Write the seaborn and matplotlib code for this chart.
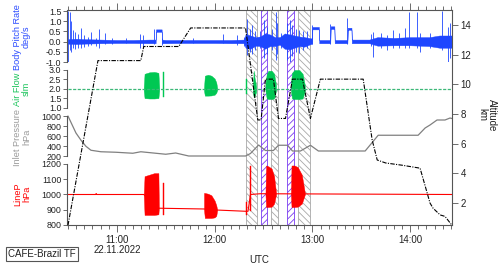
import numpy as np
import pandas as pd
import matplotlib
matplotlib.use("Agg")
import matplotlib.pyplot as plt
import matplotlib.dates as mdates
import seaborn as sns

# all times are minutes after 10:30 UTC on 22.11.2022
start = pd.Timestamp("2022-11-22 10:30")

# altitude track (km)
alt_t = [0, 18.4, 44.7, 46.5, 68.0, 75.3, 109.0, 116.5, 118.5, 121.2, 126.1, 129.2, 133.5,
         137.8, 143.9, 148.8, 154.9, 181.2, 186.7, 189.8, 195, 205, 216.1, 220.4, 222.2,
         224.1, 228.4, 231.4, 235.7]
alt_km = [0.5, 11.6, 11.6, 12.55, 12.55, 13.8, 13.8, 7.6, 7.6, 10.35, 10.35, 7.7, 7.7,
          10.35, 10.35, 7.7, 10.35, 10.35, 6.25, 4.9, 4.7, 4.55, 4.35, 2.7, 2.0,
          1.65, 1.2, 1.1, 0.5]
alt_ticks = [2, 4, 6, 8, 10, 12, 14]

# body pitch rate: noise band envelope plus single spikes (deg/s)
pitch_t = [0, 5, 10, 20, 30, 40, 50, 53.8, 54, 57.5, 57.7, 60, 70, 80, 90, 100, 108,
           109, 112, 115, 118, 121, 124, 127, 130, 133, 136, 139, 142, 145, 148, 149.8,
           150, 154, 154.2, 161, 161.2, 163.5, 163.7, 171.5, 171.7, 174, 174.2, 185,
           190, 200, 210, 222, 228, 235.7]
pitch_lo = [-0.1, -0.12, -0.1, -0.08, -0.07, -0.07, -0.08, -0.08, 0.48, 0.48, -0.08, -0.08,
            -0.07, -0.07, -0.07, -0.08, -0.08,
            -0.3, -0.35, -0.2, -0.22, -0.35, -0.22, -0.22, -0.15, -0.35, -0.38, -0.3,
            -0.22, -0.25, -0.15, -0.1,
            0.6, 0.6, -0.08, -0.08, 0.62, 0.62, -0.08, -0.08, 0.58, 0.58, -0.08, -0.08,
            -0.2, -0.18, -0.18, -0.22, -0.3, -0.3]
pitch_hi = [0.12, 0.14, 0.12, 0.1, 0.08, 0.08, 0.1, 0.1, 0.6, 0.6, 0.1, 0.08, 0.08,
            0.08, 0.08, 0.08, 0.1,
            0.35, 0.3, 0.22, 0.25, 0.4, 0.35, 0.22, 0.22, 0.4, 0.35, 0.3, 0.25, 0.22,
            0.18, 0.15,
            0.72, 0.72, 0.08, 0.08, 0.75, 0.75, 0.08, 0.08, 0.68, 0.68, 0.1, 0.1,
            0.22, 0.18, 0.22, 0.22, 0.3, 0.3]
spike_t = [0, 1.2, 2, 3, 4.5, 6, 8, 10, 12, 14, 17, 19, 23, 27, 35.5, 44, 46, 53, 58, 77,
           95, 104, 108, 110, 111.5, 113, 115, 118, 120.5, 122, 125, 127.5, 128.5, 131,
           134.5, 136, 137.5, 140, 142, 144, 147, 150, 161, 171.5, 186, 187.3, 192, 196,
           199.6, 203, 207, 209.4, 214.3, 216.1, 222, 229.6, 233.3, 234.5]
spike_lo = [-1.0, -0.4, -0.5, -0.3, -0.35, -0.3, -0.3, -0.25, -0.2, -0.15, -0.2, -0.3,
            -0.1, -0.1, -0.05, -0.3, -0.25, -0.1, -0.15, -0.05, -0.05, -0.15, -0.2,
            -0.65, -0.5, -0.6, -0.4, -0.3, -0.8, -0.6, -0.4, -0.9, -0.6, -0.3, -0.9,
            -1.0, -0.7, -0.5, -0.55, -0.4, -0.3, -0.1, -0.1, -0.1, -0.2, -0.74, -0.3,
            -0.4, -0.3, -0.3, -0.3, -0.3, -0.3, -0.5, -0.3, -0.4, -0.98, -0.8]
spike_hi = [1.5, 1.45, 1.0, 0.55, 0.45, 0.35, 0.65, 0.3, 0.25, 0.45, 0.2, 0.6, 0.42,
            0.2, 0.2, 0.35, 0.3, 0.6, 0.2, 0.2, 0.37, 0.3, 0.25,
            1.1, 0.6, 0.8, 0.5, 0.5, 1.05, 0.7, 0.6, 1.47, 0.9, 0.4, 0.9, 1.05, 0.8,
            0.6, 0.55, 0.5, 0.5, 0.8, 0.85, 1.14, 0.35, 0.48, 0.4, 0.3, 0.55, 0.4,
            0.67, 1.47, 1.47, 0.4, 0.4, 1.5, 0.7, 0.9]

# air flow (slm): constant line plus dense oscillation bursts
flow_t = [0, 235.7]
flow_v = [2.0, 2.0]
flow_burst_t = [[46.5, 47, 50, 53, 55.5, 56], [58.3, 58.7],
                [83.5, 84, 86, 88, 90, 91, 91.6], [109.3, 109.9],
                [113.5, 114, 114.5, 115.5], [121.2, 122, 123, 125, 126.5, 127.7],
                [136.8, 137.5, 139, 142, 144, 145.4]]
flow_burst_lo = [[1.9, 1.52, 1.5, 1.5, 1.52, 1.9], [1.56, 1.56],
                 [1.9, 1.65, 1.65, 1.66, 1.7, 1.8, 1.95], [1.74, 1.74],
                 [1.8, 1.56, 1.6, 1.85], [1.9, 1.5, 1.47, 1.47, 1.5, 1.9],
                 [1.9, 1.5, 1.47, 1.47, 1.5, 1.9]]
flow_burst_hi = [[2.1, 2.8, 2.88, 2.9, 2.85, 2.1], [2.9, 2.9],
                 [2.1, 2.7, 2.75, 2.7, 2.55, 2.35, 2.05], [2.5, 2.5],
                 [2.2, 2.96, 2.6, 2.15], [2.3, 2.8, 2.96, 2.96, 2.8, 2.2],
                 [2.3, 2.85, 3.0, 3.0, 2.8, 2.2]]

# inlet pressure (hPa)
inlet_t = [0, 4.9, 8.0, 11.0, 14.1, 20.2, 29.4, 39.8, 44.7, 50.8, 60, 66.1, 74.1, 109,
           112, 117, 121.2, 126.1, 129.2, 134.7, 137.8, 142.7, 148.8, 153.7, 182.4,
           190.4, 214.9, 219.2, 222.2, 226.5, 231.4, 234.5, 235.7]
inlet_hpa = [1000, 660, 515, 395, 315, 285, 275, 255, 285, 265, 235, 260, 200, 200,
             250, 420, 310, 310, 415, 415, 300, 300, 415, 300, 300, 615, 615, 760,
             820, 920, 920, 960, 950]

# line pressure (hPa): base line plus bursts
linep_t = [0, 17, 17.3, 17.6, 46.5, 55.8, 83.5, 91.6, 109, 110.5, 112, 118, 235.7]
linep_v = [1000, 1000, 1006, 1000, 1000, 910, 905, 898, 890, 890, 1000, 1005, 1000]
linep_burst_t = [[46.5, 47, 50, 53, 55.5, 55.8], [58.3, 58.7],
                 [83.5, 84, 86, 88, 90, 91, 91.6], [109.2, 109.8], [111.8, 112.2],
                 [121.2, 121.6, 123, 125, 126.5, 127.7],
                 [136.8, 137.2, 139, 141, 143.5, 145.4]]
linep_burst_lo = [[1000, 866, 866, 866, 870, 912], [866, 866],
                  [898, 846, 846, 846, 850, 860, 898], [866, 866], [890, 890],
                  [1000, 918, 918, 920, 940, 1000], [1000, 918, 918, 920, 940, 1000]]
linep_burst_hi = [[1000, 1120, 1130, 1140, 1140, 912], [1075, 1075],
                  [1010, 1010, 1005, 995, 960, 930, 900], [953, 953], [1190, 1190],
                  [1000, 1190, 1185, 1170, 1120, 1010], [1000, 1190, 1190, 1180, 1130, 1010]]

# hatched periods
gray_start = [109.0, 124.7, 141.4]
gray_end = [116.3, 129.2, 148.8]
purple_start = [118.5, 134.4]
purple_end = [122.3, 138.6]

time_ticks = [30, 90, 150, 210]
time_labels = ["11:00\n22.11.2022", "12:00", "13:00", "14:00"]

sns.set_theme(style="ticks")
plt.rcParams["font.family"] = ["Liberation Sans", "DejaVu Sans"]
plt.rcParams["hatch.linewidth"] = 0.6

blue = "#1e46ff"
green = "#00c853"
red = "#ff0000"
gray = "#808080"
frame = "#555555"
ink = "#222222"

t0 = mdates.date2num(start.to_pydatetime())


def tx(mins):
    return t0 + np.asarray(mins, dtype=float) / 1440.0


xlim = (tx(-0.6), tx(235.7))
W, H = 500, 267


def rect(y0, y1, x0=67, x1=452):
    return [x0 / W, 1 - y1 / H, (x1 - x0) / W, (y1 - y0) / H]


fig = plt.figure(figsize=(5.0, 2.67), dpi=100)

# background axes with hatched periods
ax_bg = fig.add_axes(rect(10, 225))
ax_bg.set_xlim(xlim)
ax_bg.set_ylim(0, 1)
ax_bg.axis("off")
for a, b in zip(gray_start, gray_end):
    ax_bg.axvspan(tx(a), tx(b), facecolor="none", edgecolor="#a8a8a8",
                  hatch="\\\\\\\\\\", lw=0.6)
for a, b in zip(purple_start, purple_end):
    ax_bg.axvspan(tx(a), tx(b), facecolor="none", edgecolor="#7a3cf0",
                  hatch="/////", lw=0.6)


def panel(y0, y1):
    ax = fig.add_axes(rect(y0, y1))
    ax.patch.set_alpha(0)
    return ax


def style_panel(ax, ylim, ticks, labels):
    ax.set_xlim(xlim)
    ax.set_ylim(ylim)
    ax.set_xlabel("")
    ax.set_ylabel("")
    for s in ("top", "right", "bottom"):
        ax.spines[s].set_visible(False)
    ax.spines["left"].set_color(frame)
    ax.spines["left"].set_linewidth(0.8)
    ax.spines["left"].set_bounds(ticks[0], ticks[-1])
    ax.set_xticks([])
    ax.set_yticks(ticks)
    ax.set_yticklabels(labels)
    ax.tick_params(axis="y", direction="out", length=3, width=0.6, colors=frame,
                   labelcolor=ink, labelsize=6.4, pad=1)


ax_p = panel(10, 62)
ax_p.fill_between(tx(pitch_t), pitch_lo, pitch_hi, color=blue, lw=0.3)
ax_p.vlines(tx(spike_t), spike_lo, spike_hi, color=blue, lw=0.6)
style_panel(ax_p, (-1.0, 1.55), [-1.0, -0.5, 0.0, 0.5, 1.0, 1.5],
            ["-1.0", "-0.5", "0.0", "0.5", "1.0", "1.5"])

ax_f = panel(68, 109)
for bt, lo, hi in zip(flow_burst_t, flow_burst_lo, flow_burst_hi):
    ax_f.fill_between(tx(bt), lo, hi, color=green, lw=0.3)
sns.lineplot(x=tx(flow_t), y=flow_v, ax=ax_f, color="#3cb878", lw=0.9,
             linestyle=(0, (2.5, 1.2)), estimator=None, sort=False)
style_panel(ax_f, (0.947, 3.105), [1.0, 1.5, 2.0, 2.5, 3.0],
            ["1.0", "1.5", "2.0", "2.5", "3.0"])

ax_i = panel(113, 158)
sns.lineplot(x=tx(inlet_t), y=inlet_hpa, ax=ax_i, color=gray, lw=0.9,
             estimator=None, sort=False)
style_panel(ax_i, (160, 1060), [200, 400, 600, 800, 1000],
            ["200", "400", "600", "800", "1000"])

ax_l = panel(162, 225)
for bt, lo, hi in zip(linep_burst_t, linep_burst_lo, linep_burst_hi):
    ax_l.fill_between(tx(bt), lo, hi, color=red, lw=0.3)
sns.lineplot(x=tx(linep_t), y=linep_v, ax=ax_l, color=red, lw=0.8,
             estimator=None, sort=False)
style_panel(ax_l, (800, 1213), [800, 900, 1000, 1100, 1200],
            ["800", "900", "1000", "1100", "1200"])

# altitude axes on top: right scale, time axis, frame
ax_a = fig.add_axes(rect(10, 225))
ax_a.patch.set_alpha(0)
sns.lineplot(x=tx(alt_t), y=alt_km, ax=ax_a, color="black", lw=0.8,
             linestyle=(0, (4, 1.2, 1, 1.2)), estimator=None, sort=False)
ax_a.set_xlim(xlim)
ax_a.set_ylim(0.52, 15.01)
ax_a.set_xlabel("")
ax_a.set_ylabel("")
ax_a.spines["left"].set_visible(False)
for s in ("top", "right", "bottom"):
    ax_a.spines[s].set_visible(True)
    ax_a.spines[s].set_color(frame)
    ax_a.spines[s].set_linewidth(0.8)
ax_a.yaxis.tick_right()
ax_a.set_yticks(alt_ticks)
ax_a.set_yticklabels([str(v) for v in alt_ticks])
ax_a.tick_params(axis="y", which="both", left=False, right=True, direction="out",
                 length=4, width=0.6, colors=frame, labelcolor=ink, labelsize=7, pad=2)
ax_a.set_xticks(tx(time_ticks))
ax_a.set_xticklabels(time_labels)
ax_a.xaxis.set_minor_locator(mdates.MinuteLocator(byminute=range(0, 60, 5)))
ax_a.tick_params(axis="x", which="both", top=True, bottom=True, direction="out",
                 width=0.6, colors=frame, labelcolor=ink, labelsize=7, pad=2)
ax_a.tick_params(axis="x", which="major", length=5)
ax_a.tick_params(axis="x", which="minor", length=3)
for lab in ax_a.get_xticklabels():
    lab.set_linespacing(1.0)

# axis titles
fig.text(22 / W, 1 - 37 / H, "Body Pitch Rate\ndeg/s", rotation=90, ha="center",
         va="center", color="#2a4bff", fontsize=6.6, linespacing=1.0)
fig.text(22 / W, 1 - 89 / H, "Air Flow\nslm", rotation=90, ha="center", va="center",
         color="#19c35a", fontsize=6.6, linespacing=1.0)
fig.text(22 / W, 1 - 137 / H, "Inlet Pressure\nhPa", rotation=90, ha="center",
         va="center", color="#9a9a9a", fontsize=6.6, linespacing=1.0)
fig.text(22 / W, 1 - 194 / H, "LineP\nhPa", rotation=90, ha="center", va="center",
         color=red, fontsize=6.6, linespacing=1.0)
fig.text(487 / W, 1 - 115 / H, "Altitude\nkm", rotation=270, ha="center", va="center",
         color=ink, fontsize=7, linespacing=1.0)
fig.text(259.5 / W, 1 - 260 / H, "UTC", ha="center", va="center", color=ink, fontsize=7)
fig.text(8 / W, 1 - 254 / H, "CAFE-Brazil TF", ha="left", va="center", color=ink,
         fontsize=7, bbox=dict(boxstyle="square,pad=0.25", facecolor="white",
                               edgecolor=frame, lw=0.8))

fig.savefig("out.png", dpi=100)
